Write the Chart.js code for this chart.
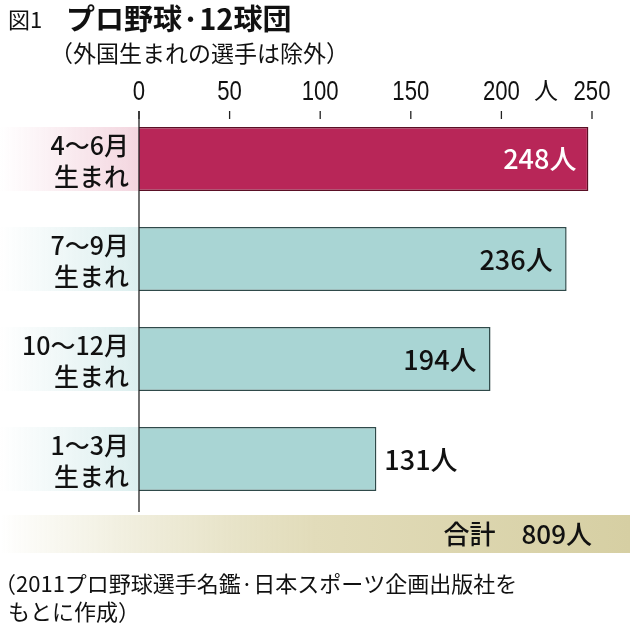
<!DOCTYPE html>
<html><head><meta charset="utf-8">
<script src="https://cdn.jsdelivr.net/npm/chart.js@4"></script>
<style>html,body{margin:0;padding:0;background:#fff}#w{width:630px;height:630px;position:relative}</style>
</head><body><div id="w"><canvas id="c"></canvas></div>
<script>
const categories = [["4〜6月","生まれ"],["7〜9月","生まれ"],["10〜12月","生まれ"],["1〜3月","生まれ"]];
const values = [248,236,194,131];
const valueLabels = ["248人","236人","194人","131人"];
const tickValues = [0,50,100,150,200,250];
const totalLabel = "合計　809人";
const F = '"Noto Sans CJK JP", sans-serif';

function condensed(c,txt,x,y,sx,align){
  c.save(); c.translate(x,y); c.scale(sx,1); c.textAlign=align; c.fillText(txt,0,0); c.restore();
}
const deco = {
  id:'deco',
  beforeDatasetsDraw(ch){
    const c=ch.ctx, y=ch.scales.y;
    c.save();
    categories.forEach((lab,i)=>{
      const cy=y.getPixelForValue(i);
      const g=c.createLinearGradient(0,0,139,0);
      if(i===0){g.addColorStop(0,'rgba(245,215,225,0)');g.addColorStop(1,'#f3d6df');}
      else{g.addColorStop(0,'rgba(220,238,238,0)');g.addColorStop(1,'#dcefef');}
      c.fillStyle=g; c.fillRect(0,cy-32,139,64);
    });
    const g2=c.createLinearGradient(0,0,630,0);
    g2.addColorStop(0,'rgba(216,211,168,0)');g2.addColorStop(0.5,'#e2dcba');g2.addColorStop(1,'#d6cfa3');
    c.fillStyle=g2; c.fillRect(0,515,630,38);
    c.restore();
  },
  afterDatasetsDraw(ch){
    const c=ch.ctx, y=ch.scales.y, x=ch.scales.x, ca=ch.chartArea;
    c.save();
    c.strokeStyle='#222'; c.lineWidth=1.3;
    c.beginPath(); c.moveTo(ca.left,111); c.lineTo(ca.left,512); c.stroke();
    c.fillStyle='#111'; c.textBaseline='alphabetic';
    tickValues.forEach(v=>{
      const px=x.getPixelForValue(v);
      c.beginPath(); c.moveTo(px,111); c.lineTo(px,119); c.stroke();
      c.font='27px "Liberation Sans", sans-serif';
      condensed(c,String(v),px,100,0.82,'center');
    });
    c.font='24px '+F; c.textAlign='center'; c.fillText('人',546,99);
    c.textAlign='right';
    categories.forEach((lab,i)=>{
      const cy=y.getPixelForValue(i);
      c.font='500 25px '+F;
      c.fillText(lab[0],129,cy-4);
      c.fillText(lab[1],129,cy+27);
    });
    values.forEach((v,i)=>{
      const cy=y.getPixelForValue(i), px=x.getPixelForValue(v);
      c.font='500 27px '+F;
      if(i===0){c.fillStyle='#fff';c.textAlign='right';c.fillText(valueLabels[i],px-12,cy+10);}
      else if(i===3){c.fillStyle='#111';c.textAlign='left';c.fillText(valueLabels[i],px+8,cy+11);}
      else{c.fillStyle='#111';c.textAlign='right';c.fillText(valueLabels[i],px-14,cy+11);}
    });
    c.fillStyle='#111'; c.textAlign='right'; c.font='500 26px '+F;
    c.fillText(totalLabel,592,544);
    c.textAlign='left';
    c.font='22px '+F; c.fillText('図1',8,28);
    c.font='bold 29px '+F; c.fillText('プロ野球·12球団',66,30);
    c.font='23px '+F; c.fillText('（外国生まれの選手は除外）',50,62);
    c.font='22px '+F;
    c.fillText('（2011プロ野球選手名鑑·日本スポーツ企画出版社を',-6,592);
    c.fillText('もとに作成）',8,620);
    c.restore();
  }
};

new Chart(document.getElementById('c'),{
  type:'bar',
  data:{labels:categories.map(l=>l.join('')),datasets:[{data:values,
    backgroundColor:values.map((v,i)=>i===0?'#b82658':'#a9d5d4'),
    borderColor:values.map((v,i)=>i===0?'#5a0f25':'#2f4a4a'),borderWidth:1.5,
    barPercentage:0.64,categoryPercentage:1}]},
  options:{indexAxis:'y',responsive:true,maintainAspectRatio:false,animation:false,
    layout:{padding:{left:139,right:38,top:109,bottom:121}},
    plugins:{legend:{display:false},tooltip:{enabled:false}},
    scales:{x:{display:false,min:0,max:250},y:{display:false}}},
  plugins:[deco]
});
</script></body></html>
